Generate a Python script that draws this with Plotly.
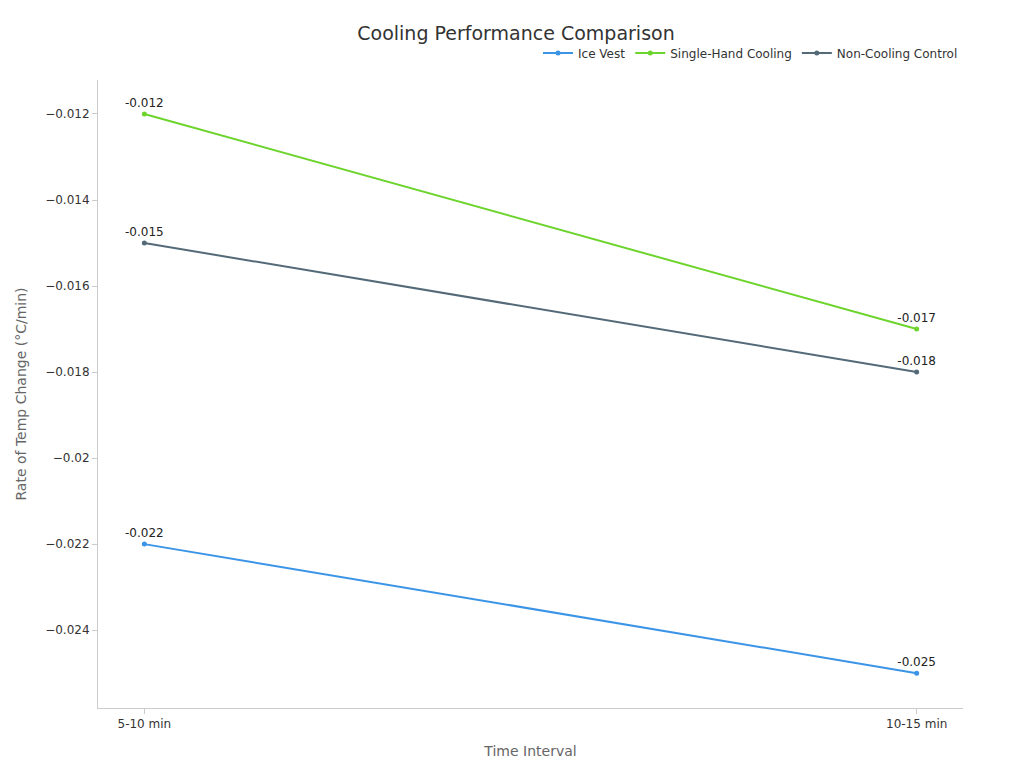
import plotly.graph_objects as go

intervals = ["5-10 min", "10-15 min"]
ice_vest = [-0.022, -0.025]
single_hand = [-0.012, -0.017]
control = [-0.015, -0.018]

series = [
    ("Ice Vest", ice_vest, "#3b94e6"),
    ("Single-Hand Cooling", single_hand, "#6cd42c"),
    ("Non-Cooling Control", control, "#546a78"),
]

fig = go.Figure()
for name, vals, color in series:
    fig.add_trace(go.Scatter(
        x=[0, 1], y=vals, name=name, mode="lines+markers+text",
        line=dict(color=color, width=2), marker=dict(size=5, color=color),
        text=[str(v) for v in vals], textposition="top center",
        textfont=dict(size=12, color="#222"),
    ))

fig.update_layout(
    width=1016, height=760,
    font=dict(family="DejaVu Sans", size=12, color="#333"),
    title=dict(text="Cooling Performance Comparison", x=0.5, y=1 - 25 / 760,
               xanchor="center", yanchor="middle", font=dict(size=19, color="#333")),
    paper_bgcolor="white", plot_bgcolor="white",
    margin=dict(l=82, r=61, t=72, b=60),
    legend=dict(orientation="h", x=1, xanchor="right", y=1.043, yanchor="middle",
                font=dict(size=12)),
    xaxis=dict(title=dict(text="Time Interval", font=dict(size=14, color="#666")),
               tickvals=[0, 1], ticktext=intervals, range=[-0.06, 1.06],
               showgrid=False, zeroline=False, showline=True, linecolor="#ccc",
               ticks="outside", tickcolor="#ccc"),
    yaxis=dict(title=dict(text="Rate of Temp Change (°C/min)", font=dict(size=14, color="#666")),
               range=[-0.02581, -0.01121], dtick=0.002, tick0=-0.012,
               showgrid=False, zeroline=False, showline=True, linecolor="#ccc",
               ticks="outside", tickcolor="#ccc"),
)

fig.write_html("out.html")
